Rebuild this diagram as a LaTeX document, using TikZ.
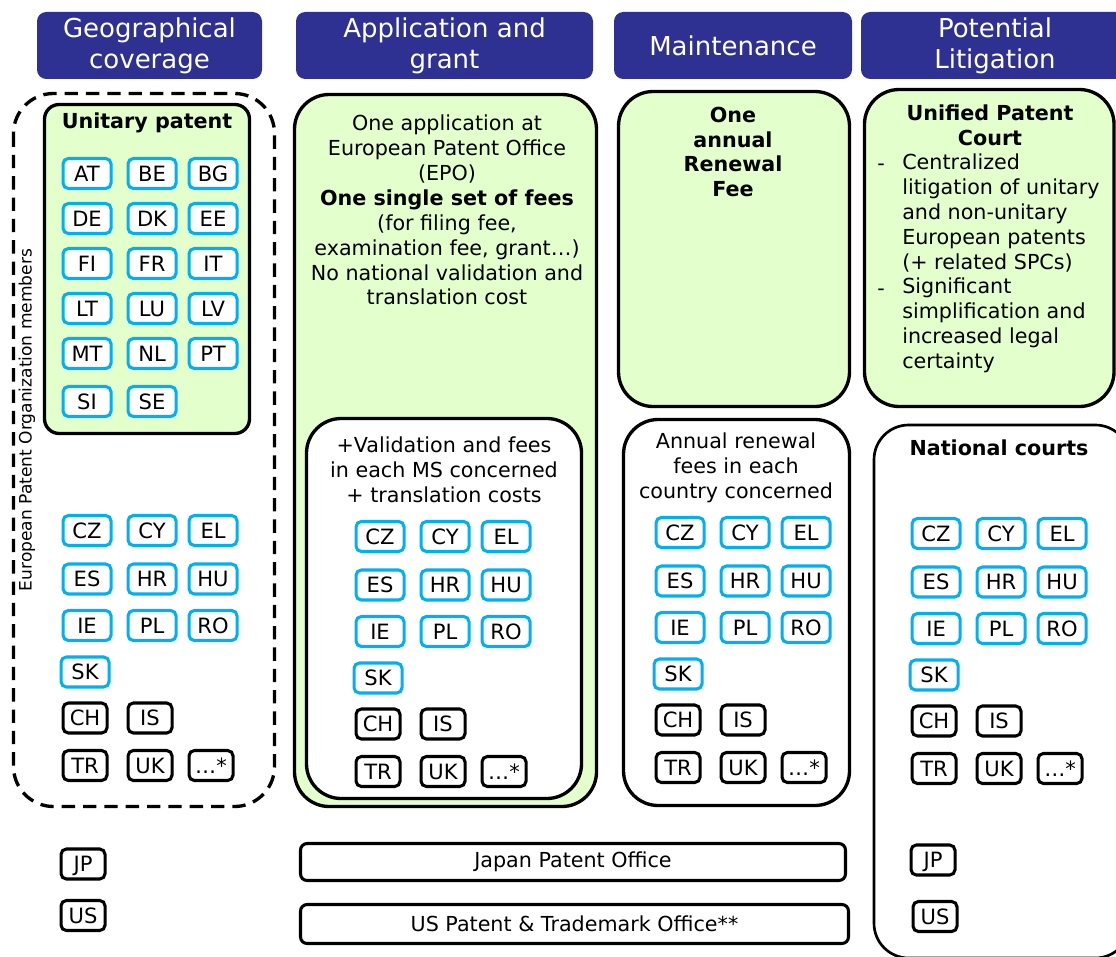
\documentclass[tikz,border=0pt]{standalone}
\usepackage{fontspec}
\setmainfont{DejaVu Sans}

\definecolor{epnavy}{RGB}{46,49,146}
\definecolor{upgreen}{RGB}{226,255,204}
\definecolor{msblue}{RGB}{0,176,240}

\begin{document}
\begin{tikzpicture}[x=0.75pt, y=-0.75pt,
  body/.style = {font=\fontsize{15.5}{18.7}\selectfont, inner sep=0pt, align=center},
  header/.style = {fill=epnavy, rounded corners=7pt, text=white, align=center, font=\fontsize{19.5}{23}\selectfont, minimum height=50.25pt, inner sep=0pt},
  frame/.style = {draw, line width=2.5pt, rounded corners=#1},
  frame/.default = 24pt,
  eu/.style = {draw=msblue, fill=white, line width=2.3pt, rounded corners=4pt, minimum width=36pt, minimum height=22.5pt, inner sep=0pt, text height=11.3pt, text depth=0pt, font=\fontsize{15.8}{18.7}\selectfont, anchor=west},
  noneu/.style = {eu, draw=black, minimum width=33pt},
  office/.style = {draw, line width=2.3pt, rounded corners=5pt, minimum height=27.75pt, inner sep=0pt, font=\fontsize{15.5}{18.7}\selectfont},
  bullet/.style = {body, text height=11.3pt, text depth=0pt}]

\useasboundingbox (0,0) rectangle (1116,956);
\clip (0,0) rectangle (1116,956);

% Headers
\node[header, minimum width=168.75pt] (geo) at (149.5,45.5) {Geographical\\coverage};
\node[header, minimum width=222.75pt] (app) at (444.5,45.5) {Application and\\grant};
\node[header, minimum width=178.5pt] (mnt) at (733,45.5) {Maintenance};
\node[header, minimum width=201pt] (lit) at (995,45.5) {Potential\\Litigation};

% Frames
\draw[frame=30pt, dash pattern=on 10pt off 6pt] (13.5,93.5) rectangle (274.5,806.5);
\draw[frame=11pt, fill=upgreen] (44.5,104.5) rectangle (249.5,433.5);
\draw[frame=26pt, fill=upgreen] (294.5,94.5) rectangle (596.5,806.5);
\draw[frame=26pt, fill=white] (306.5,418.5) rectangle (581.5,798.5);
\draw[frame=26pt, fill=upgreen] (618.5,91.5) rectangle (849.5,406.5);
\draw[frame=26pt, fill=upgreen] (864.5,89.5) rectangle (1114,406.5);
\draw[frame=26pt, fill=white] (623.5,419.5) rectangle (849.5,805.5);
\draw[frame=26pt, line width=2pt, fill=white] (874,425) rectangle (1130,958);

% Texts
\node[body, rotate=90, font=\fontsize{12.8}{15}\selectfont] (epo) at (27,420) {European Patent Organization members};
\node[body, font=\bfseries\fontsize{15.5}{18.7}\selectfont] (up) at (147,123) {Unitary patent};
\node[body] (epotext) at (447,210) {One application at\\European Patent Office\\(EPO)\\\textbf{One single set of fees}\\(for filing fee,\\examination fee, grant…)\\No national validation and\\translation cost};
\node[body] (valtext) at (444,470) {+Validation and fees\\in each MS concerned\\+ translation costs};
\node[body, font=\bfseries\fontsize{15.5}{18.7}\selectfont] (fee) at (733,152) {One\\annual\\Renewal\\Fee};
\node[body] (rentext) at (736,468) {Annual renewal\\fees in each\\country concerned};
\node[body, font=\bfseries\fontsize{15.5}{18.7}\selectfont] (upc) at (990,125.5) {Unified Patent\\Court};
\node[bullet] (dash1) at (881,163) {-};
\node[body, align=left, anchor=west] (upc1) at (902,213) {Centralized\\litigation of unitary\\and non-unitary\\European patents\\(+ related SPCs)};
\node[bullet] (dash2) at (881,288) {-};
\node[body, align=left, anchor=west] (upc2) at (902,325.5) {Significant\\simplification and\\increased legal\\certainty};
\node[body, font=\bfseries\fontsize{15.5}{18.7}\selectfont] (natc) at (999,448) {National courts};

% Unitary patent states
\foreach \c/\dx/\dy in {AT/0/0, BE/65/0, BG/126/0, DE/0/45, DK/65/45, EE/126/45, FI/0/90, FR/65/90, IT/126/90, LT/0/135, LU/65/135, LV/126/135, MT/0/180, NL/65/180, PT/126/180, SI/0/228, SE/65/228}
  \node[eu] (up-\c) at ({61.5+\dx},{173.5+\dy}) {\c};

% Other states, one block per column
\foreach \g/\gx/\gy in {geo/60/514, app/353/520, mnt/653/516, nat/909/517} {
  \foreach \c/\dx/\dy in {CZ/0/0, CY/65/0, EL/126/0, ES/0/48.5, HR/65/48.5, HU/126/48.5, IE/0/95, PL/65/95, RO/126/95, SK/-2/141.5}
    \node[eu] (\g-\c) at ({\gx+1.5+\dx},{\gy+16.5+\dy}) {\c};
  \foreach \c/\dx/\dy [count=\i] in {CH/0/187.5, IS/65/187.5, TR/0/235, UK/65/235, …*/126/235}
    \node[noneu] (\g-o\i) at ({\gx+1.5+\dx},{\gy+16.5+\dy}) {\c};
}

% Japan and US
\node[noneu] (geo-jp) at (59.5,864) {JP};
\node[noneu] (geo-us) at (59.5,915.5) {US};
\node[noneu] (nat-jp) at (909.5,860) {JP};
\node[noneu] (nat-us) at (911.5,916.5) {US};
\node[office, minimum width=408.75pt] (jpo) at (573,862) {Japan Patent Office};
\node[office, minimum width=411pt, minimum height=29.25pt] (uspto) at (574.5,924) {US Patent \& Trademark Office**};

\end{tikzpicture}
\end{document}
